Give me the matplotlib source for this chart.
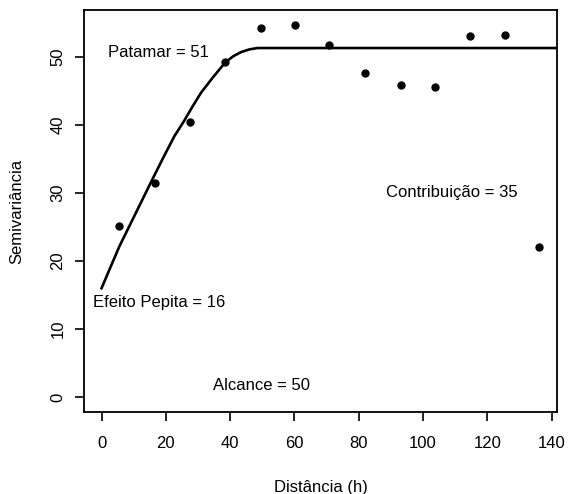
import matplotlib
matplotlib.use("Agg")
import matplotlib.pyplot as plt

# empirical semivariogram points
dist = [5.4, 16.6, 27.6, 38.5, 49.5, 60.1, 70.8, 81.9, 93.0, 103.7, 114.5, 125.5, 136.2]
semiv = [25.2, 31.5, 40.5, 49.3, 54.2, 54.7, 51.8, 47.7, 45.9, 45.6, 53.0, 53.2, 22.0]

# fitted model curve
model_x = [0, 5.5, 10.5, 15.4, 19.0, 22.6, 25.7, 28.3, 30.9, 34.5, 38.5, 41.0, 43.4, 46.0, 48.5, 142]
model_y = [16.0, 22.1, 26.9, 31.6, 35.0, 38.3, 40.6, 42.7, 44.7, 46.9, 49.2, 50.1, 50.7, 51.1, 51.3, 51.3]

xticks = [0, 20, 40, 60, 80, 100, 120, 140]
yticks = [0, 10, 20, 30, 40, 50]

labels = ["Patamar = 51", "Efeito Pepita = 16", "Alcance = 50", "Contribuição = 35"]
label_x = [17.6, 17.9, 49.9, 108.8]
label_y = [50.7, 13.9, 1.7, 30.1]

plt.rcParams['font.family'] = ['Liberation Sans', 'DejaVu Sans']
FS = 12

fig = plt.figure(figsize=(5.68, 4.94), dpi=100)
ax = fig.add_axes([84/568, 1-412/494, (557-84)/568, (412-10)/494])

ax.plot(model_x, model_y, color='black', lw=1.9, solid_joinstyle='round', clip_on=True)
ax.scatter(dist, semiv, s=36, color='black', zorder=3, linewidths=0)

for t, x, y in zip(labels, label_x, label_y):
    ax.text(x, y, t, ha='center', va='center', fontsize=FS)

xr = max(dist) - 0
ax.set_xlim(0 - 0.04*xr, max(dist) + 0.04*xr)
yr = max(semiv) - 0
ax.set_ylim(0 - 0.04*yr, max(semiv) + 0.04*yr)

ax.set_xticks(xticks)
ax.set_yticks(yticks)
ax.set_xticklabels([str(v) for v in xticks], fontsize=FS)
ax.set_yticklabels([str(v) for v in yticks], fontsize=FS, rotation=90, va='center')
ax.tick_params(axis='both', direction='out', length=6.5, width=1.2)
ax.tick_params(axis='x', pad=10.5)
ax.tick_params(axis='y', pad=7)
for s in ax.spines.values():
    s.set_linewidth(1.3)

ax.set_xlabel("Distância (h)", fontsize=FS, labelpad=21)
ax.set_ylabel("Semivariância", fontsize=FS, labelpad=19)

fig.savefig("out.png", dpi=100)
